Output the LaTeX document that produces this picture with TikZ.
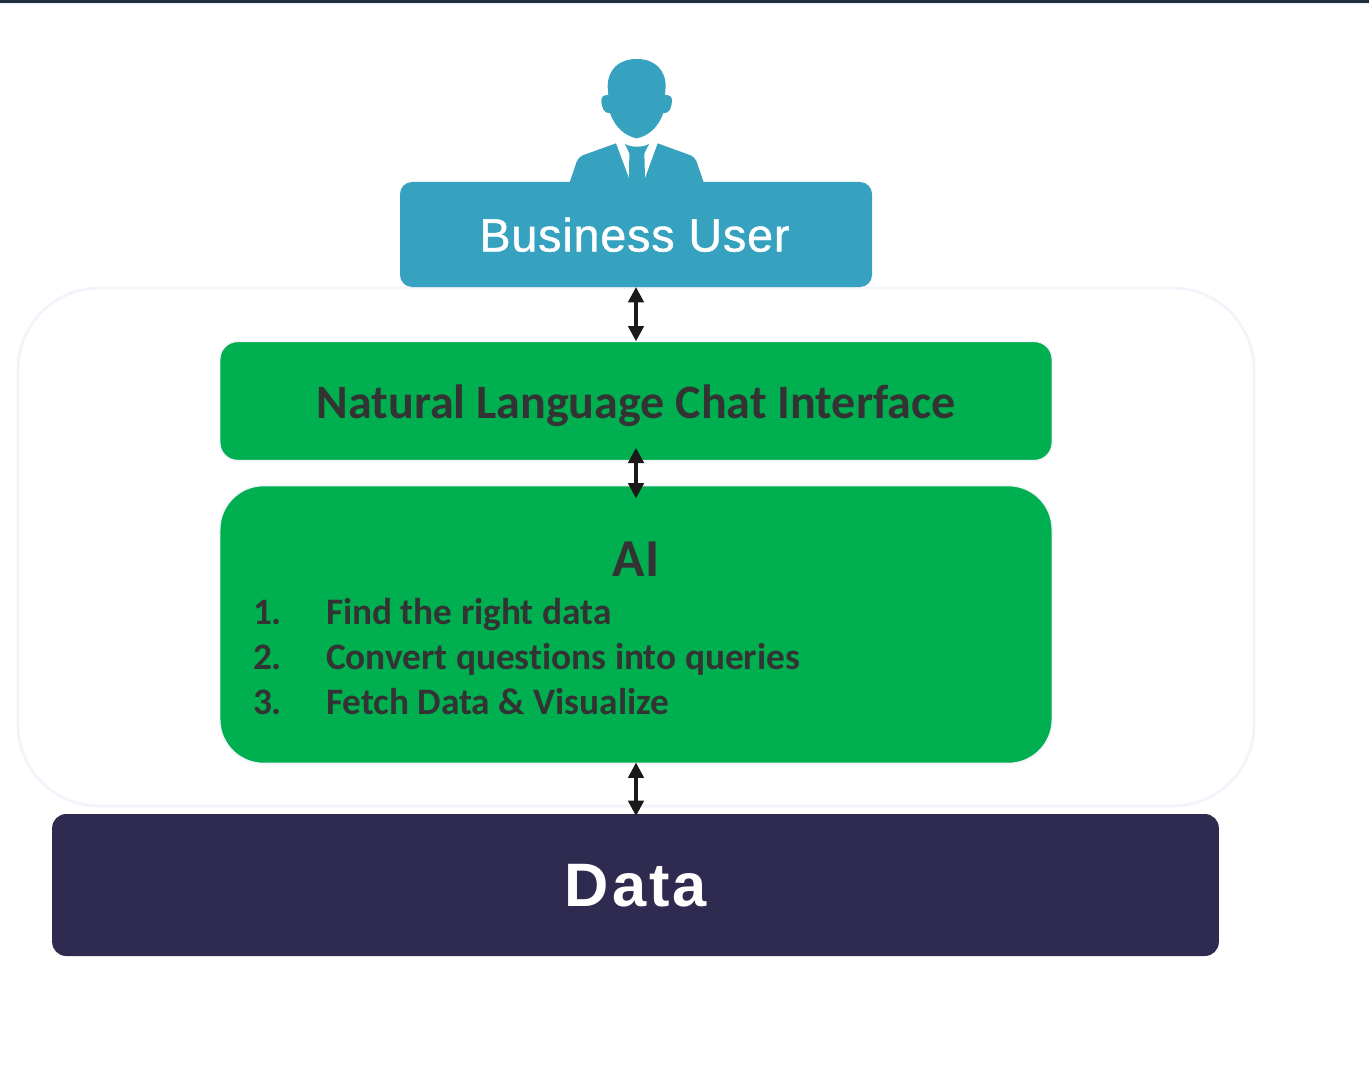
\documentclass[tikz,border=0pt]{standalone}
\usepackage{fontspec}
\usetikzlibrary{arrows.meta}
\setmainfont[Ligatures=NoCommon]{Carlito}
\newfontfamily\userfont[LetterSpace=1.8,FakeBold=0.9]{Liberation Sans}
\newfontfamily\datafont[LetterSpace=5]{Liberation Sans Bold}
\definecolor{teal}{HTML}{36A2BF}
\definecolor{grn}{HTML}{00B050}
\definecolor{navy}{HTML}{2F2B50}
\definecolor{ink}{HTML}{333333}
\definecolor{pale}{HTML}{F3F3FB}
\definecolor{barc}{HTML}{1F2D3D}
\definecolor{arr}{HTML}{1A1A1A}
\tikzset{
  box/.style={inner sep=0pt,outer sep=0pt},
  greenbox/.style={box,fill=grn,draw=pale,line width=1.2pt},
  lbl/.style={inner sep=0pt,outer sep=0pt,font=\bfseries\fontsize{28}{32}\selectfont,text=ink,anchor=base west},
  twoway/.style={{Triangle[length=11.5pt,width=11.5pt]}-{Triangle[length=11.5pt,width=11.5pt]},line width=2.6pt,draw=arr},
}
\begin{document}
\begin{tikzpicture}[x=0.75pt,y=-0.75pt]
\useasboundingbox (0,0) rectangle (1369,1073);
\fill[white] (0,0) rectangle (1369,1073);
\fill[pale] (0,3) rectangle (1369,5);
\fill[barc] (0,0) rectangle (1369,3);
% container
\node[box,draw=pale,line width=2pt,rounded corners=61pt,minimum width=927pt,minimum height=388.5pt] (outer) at (636,547) {};
% person
\begin{scope}[shift={(540,40)},x=0.25pt,y=-0.25pt]
\fill[teal] (290,57) .. controls (235,57) and (203,90) .. (203,140) -- (205,165)
  .. controls (190,165) and (184,170) .. (184,182)
  .. controls (186,205) and (192,222) .. (210,219)
  .. controls (225,262) and (255,288) .. (290,295)
  .. controls (325,288) and (355,262) .. (370,219)
  .. controls (388,222) and (394,205) .. (396,182)
  .. controls (396,170) and (390,165) .. (375,165)
  -- (377,140) .. controls (377,90) and (345,57) .. (290,57) -- cycle;
\fill[teal] (88,430) -- (110,365) .. controls (114,355) and (120,350) .. (128,346)
  -- (228,310) -- (267,415) -- (268,340) -- (255,312)
  .. controls (275,323) and (307,323) .. (327,312)
  -- (313,340) -- (315,415) -- (353,310) -- (452,346)
  .. controls (460,350) and (466,355) .. (470,365) -- (492,430) -- cycle;
\end{scope}
% boxes
\node[box,fill=teal,rounded corners=9pt,minimum width=354pt,minimum height=78.75pt] (user) at (636,234.5) {};
\node[inner sep=0pt,font=\userfont\fontsize{35}{40}\selectfont,text=white,anchor=base] (usert) at (634.5,251.5) {Business User};
\node[greenbox,rounded corners=13.5pt,minimum width=624.5pt,minimum height=89.5pt] (chat) at (636,401) {};
\node[inner sep=0pt,font=\bfseries\fontsize{36}{40}\selectfont,text=ink,anchor=base] (chatt) at (636,418) {Natural Language Chat Interface};
\node[greenbox,rounded corners=33pt,minimum width=624.5pt,minimum height=208.5pt] (ai) at (636,624.5) {};
\node[inner sep=0pt,font=\bfseries\fontsize{40}{44}\selectfont,text=ink,anchor=base] (ait) at (636,576) {AI};
\node[lbl] (n1) at (253,624.5) {1.};
\node[lbl] (t1) at (326,624.5) {Find the right data};
\node[lbl] (n2) at (253,669.5) {2.};
\node[lbl] (t2) at (326,669.5) {Convert questions into queries};
\node[lbl] (n3) at (253,714.5) {3.};
\node[lbl] (t3) at (326,714.5) {Fetch Data \& Visualize};
\node[box,fill=navy,rounded corners=10.5pt,minimum width=875pt,minimum height=106.5pt] (data) at (635.5,885) {};
\node[inner sep=0pt,font=\datafont\fontsize{46}{50}\selectfont,text=white,anchor=base] (datat) at (636,906.5) {Data};
% arrows
\draw[twoway] (user.south) -- (chat.north);
\draw[twoway,shorten <=-9.75pt,shorten >=-9.75pt] (chat.south) -- (ai.north);
\draw[twoway,shorten <=-0.75pt,shorten >=-1.5pt] (ai.south) -- (ai.south |- data.north);
\end{tikzpicture}
\end{document}
